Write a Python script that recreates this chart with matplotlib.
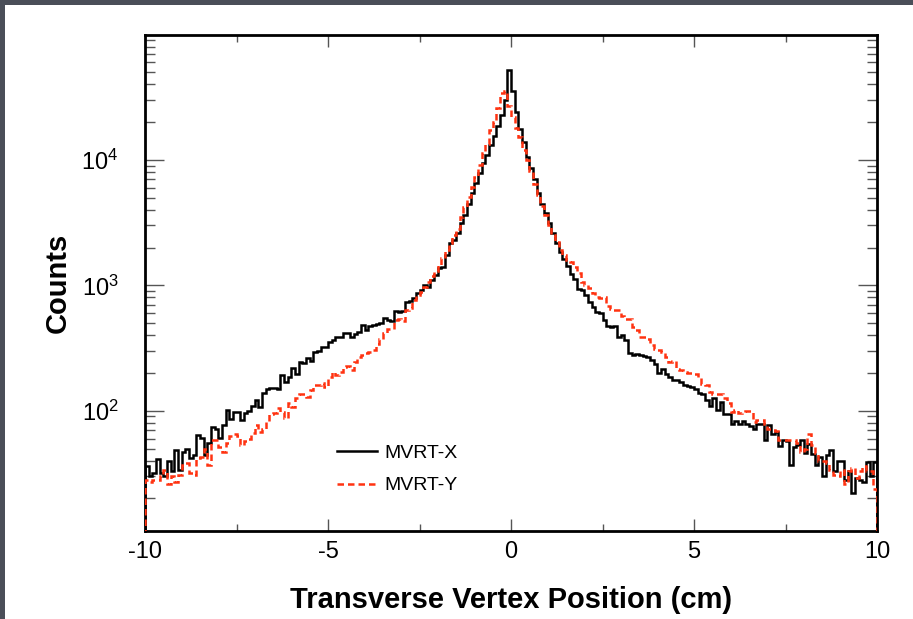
import numpy as np
import matplotlib
matplotlib.use('Agg')
import matplotlib.pyplot as plt
from matplotlib.patches import Rectangle
from matplotlib.ticker import MultipleLocator, LogLocator, NullFormatter

plt.rcParams['font.family'] = ['Liberation Sans', 'DejaVu Sans']
plt.rcParams['mathtext.fontset'] = 'custom'
plt.rcParams['mathtext.rm'] = 'Liberation Sans'
plt.rcParams['mathtext.default'] = 'regular'
plt.rcParams['axes.unicode_minus'] = False

# 200 bins of 0.1 cm from -10 to 10
x_min, x_max, n_bins = -10, 10, 200

mvrt_x = [
    36, 30, 32, 41, 32, 30, 40, 33, 49, 34,
    47, 50, 42, 44, 64, 61, 44, 55, 74, 71,
    61, 77, 101, 86, 98, 98, 84, 96, 100, 110,
    122, 108, 138, 149, 152, 152, 149, 192, 170, 185,
    218, 196, 245, 242, 263, 251, 296, 301, 320, 324,
    355, 365, 390, 385, 420, 415, 390, 410, 428, 483,
    440, 473, 483, 490, 498, 546, 526, 515, 623, 617,
    628, 742, 755, 790, 867, 910, 1010, 975, 1110, 1210,
    1370, 1410, 1740, 2160, 2300, 2620, 3140, 3640, 4450, 5400,
    6500, 7850, 9530, 11000, 13200, 15600, 18500, 22600, 30000, 52000,
    35600, 23900, 17700, 14000, 10600, 8600, 7000, 5400, 4450, 3740,
    3130, 2600, 2160, 1860, 1610, 1420, 1230, 1120, 930, 910,
    835, 742, 670, 617, 600, 526, 473, 462, 473, 385,
    400, 365, 290, 278, 283, 276, 273, 270, 253, 235,
    200, 214, 196, 185, 177, 176, 170, 160, 157, 154,
    148, 139, 137, 122, 109, 126, 101, 118, 95, 95,
    78, 83, 78, 83, 78, 75, 71, 78, 78, 59,
    77, 65, 68, 52, 58, 57, 37, 51, 53, 58,
    46, 54, 45, 37, 43, 30, 44, 49, 33, 40,
    40, 28, 33, 22, 29, 28, 27, 39, 30, 39,
]

mvrt_y = [
    28, 27, 28, 28, 30, 34, 26, 30, 27, 31,
    37, 38, 32, 31, 42, 43, 50, 37, 58, 58,
    51, 47, 55, 63, 65, 63, 53, 57, 60, 66,
    77, 68, 72, 82, 95, 96, 105, 98, 87, 115,
    108, 126, 136, 136, 129, 146, 160, 160, 166, 154,
    185, 205, 193, 202, 224, 227, 211, 244, 267, 278,
    290, 296, 304, 340, 370, 415, 447, 450, 530, 535,
    515, 635, 655, 760, 835, 890, 975, 1070, 1190, 1290,
    1450, 1640, 1910, 2160, 2520, 2800, 3500, 4200, 5100, 6100,
    7350, 9100, 11300, 13500, 17200, 20100, 26000, 34000, 35400, 27000,
    22000, 18000, 15200, 12000, 10000, 8100, 6400, 5250, 4260, 3640,
    3030, 2520, 2230, 1910, 1740, 1600, 1530, 1410, 1250, 1070,
    1000, 950, 875, 800, 790, 800, 685, 645, 630, 630,
    565, 535, 535, 462, 438, 390, 385, 370, 335, 310,
    304, 296, 270, 245, 248, 214, 211, 205, 200, 200,
    198, 181, 163, 160, 142, 137, 137, 136, 126, 116,
    98, 101, 96, 98, 100, 100, 82, 84, 85, 79,
    72, 70, 69, 59, 59, 59, 58, 58, 55, 47,
    50, 65, 53, 46, 40, 40, 38, 34, 31, 30,
    34, 26, 33, 35, 29, 33, 36, 33, 33, 24,
]

labels = ['MVRT-X', 'MVRT-Y']

edges = np.linspace(x_min, x_max, n_bins + 1)

W, H = 913, 619
fig = plt.figure(figsize=(W / 100, H / 100), dpi=100)
fig.patch.set_facecolor('#4a4e58')
fig.patches.append(Rectangle((5 / W, 0), 1, (H - 5) / H, transform=fig.transFigure,
                             facecolor='white', edgecolor='none', zorder=-10))

# axes frame in pixels: left 145, right 877, top 35, bottom 531
ax = fig.add_axes([145 / W, 1 - 531 / H, 732 / W, 496 / H])

ax.stairs(mvrt_x, edges, baseline=1, color='black', lw=1.8, label=labels[0], zorder=3)
ax.stairs(mvrt_y, edges, baseline=1, color='#ff3311', lw=1.8,
          ls=(0, (2.6, 1.6)), label=labels[1], zorder=3)

ax.set_yscale('log')
ax.set_xlim(x_min, x_max)
ax.set_ylim(11, 9.9e4)

ax.xaxis.set_major_locator(MultipleLocator(5))
ax.xaxis.set_minor_locator(MultipleLocator(2.5))
ax.yaxis.set_minor_locator(LogLocator(base=10, subs=np.arange(2, 10)))
ax.yaxis.set_minor_formatter(NullFormatter())

ax.tick_params(which='both', direction='in', top=True, right=True,
               color='#555555', width=1)
ax.tick_params(axis='x', which='major', length=8.5, pad=7, labelsize=17)
ax.tick_params(axis='x', which='minor', length=5)
ax.tick_params(axis='y', which='major', length=13.5, pad=19, labelsize=17)
ax.tick_params(axis='y', which='minor', length=7)
for s in ax.spines.values():
    s.set_linewidth(2)
    s.set_color('black')

ax.set_xlabel('Transverse Vertex Position (cm)', fontsize=21, fontweight='bold')
ax.xaxis.set_label_coords(0.5, (531 - 600) / 496)
ax.xaxis.label.set_va('center')
ax.set_ylabel('Counts', fontsize=21, fontweight='bold')
ax.yaxis.set_label_coords((58 - 145) / 732, 0.5)
ax.yaxis.label.set_va('center')

ax.legend(loc='center left', bbox_to_anchor=((337 - 145) / 732, (531 - 469.5) / 496),
          frameon=False, fontsize=14, handlelength=2.05, handletextpad=0.4,
          labelspacing=0.75, borderpad=0, borderaxespad=0)

fig.savefig('out.png', dpi=100)
